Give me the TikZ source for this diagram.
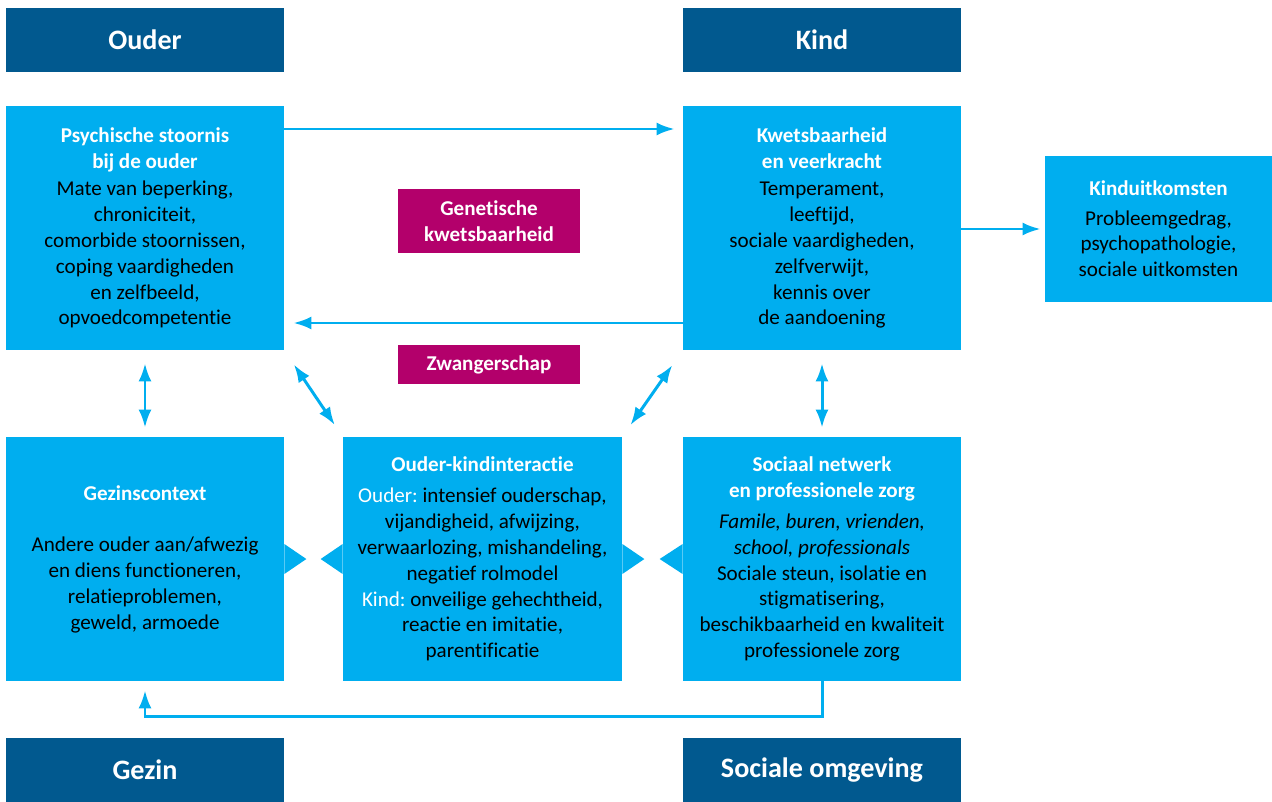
\documentclass[tikz,border=0pt]{standalone}
\usepackage{fontspec}
\setmainfont[Ligatures=NoCommon]{Carlito}
\usepackage{tikz}
\usetikzlibrary{arrows.meta}
\frenchspacing
\definecolor{lichtblauw}{HTML}{00AEEF}
\definecolor{donkerblauw}{HTML}{01598F}
\definecolor{paars}{HTML}{B3006B}
\tikzset{box/.style = {fill=lichtblauw, text=black, align=center, inner sep=0,
                       minimum width=5.56cm, minimum height=4.88cm,
                       font=\fontsize{12}{14.7}\selectfont}}
\tikzset{head/.style = {fill=donkerblauw, text=white, inner sep=0,
                        minimum width=5.56cm, minimum height=1.28cm,
                        font=\fontsize{16}{19}\selectfont\bfseries}}
\tikzset{accent/.style = {fill=paars, text=white, align=center, inner sep=0,
                          minimum width=3.64cm,
                          font=\fontsize{12}{14.7}\selectfont\bfseries}}
\tikzset{link/.style = {draw=lichtblauw, line width=1.7pt,
                        -{Latex[length=3.6mm, width=2.6mm]}}}
\tikzset{both/.style = {link, {Latex[length=3.6mm, width=2.6mm]}-{Latex[length=3.6mm, width=2.6mm]}}}
\newcommand{\kop}[1]{{\color{white}\bfseries #1}}

\begin{document}
\begin{tikzpicture}
  \useasboundingbox (0, 0) rectangle (25.44, -16.02);
  \node [head] (ouder) at (2.90, -0.80) {Ouder};
  \node [head] (kind) at (16.44, -0.80) {Kind};
  \node [head] (gezin) at (2.90, -15.40) {Gezin};
  \node [head] (omgeving) at (16.44, -15.40) {Sociale omgeving};

  \node [box] (stoornis) at (2.90, -4.56) {\kop{Psychische stoornis}\\ \kop{bij de ouder}\\[1pt]
    Mate van beperking,\\ chroniciteit,\\ comorbide stoornissen,\\ coping vaardigheden\\
    en zelfbeeld,\\ opvoedcompetentie};
  \node [box] (kwetsbaar) at (16.44, -4.56) {\kop{Kwetsbaarheid}\\ \kop{en veerkracht}\\[1pt]
    Temperament,\\ leeftijd,\\ sociale vaardigheden,\\ zelfverwijt,\\ kennis over\\ de aandoening};
  \node [box, minimum width=4.54cm, minimum height=2.92cm] (uitkomst) at (23.17, -4.58)
    {\kop{Kinduitkomsten}\\[2pt] Probleemgedrag,\\ psychopathologie,\\ sociale uitkomsten};
  \node [box] (context) at (2.90, -11.18) {\kop{Gezinscontext}\\[14.7pt]
    Andere ouder aan/afwezig\\ en diens functioneren,\\ relatieproblemen,\\ geweld, armoede};
  \node [box, minimum width=5.58cm] (interactie) at (9.65, -11.18) {\kop{Ouder-kindinteractie}\\[3pt]
    \textcolor{white}{Ouder:} intensief ouderschap,\\ vijandigheid, afwijzing,\\
    verwaarlozing, mishandeling,\\ negatief rolmodel\\
    \textcolor{white}{Kind:} onveilige gehechtheid,\\ reactie en imitatie,\\ parentificatie};
  \node [box] (netwerk) at (16.44, -11.18) {\kop{Sociaal netwerk}\\ \kop{en professionele zorg}\\[3pt]
    \textit{Famile, buren, vrienden,}\\ \textit{school, professionals}\\
    Sociale steun, isolatie en\\ stigmatisering,\\ beschikbaarheid en kwaliteit\\ professionele zorg};

  \node [accent, minimum height=1.28cm] (genetisch) at (9.78, -4.42) {Genetische\\ kwetsbaarheid};
  \node [accent, minimum height=0.78cm] (zwanger) at (9.78, -7.29) {Zwangerschap};

  \fill [lichtblauw] ([yshift=3mm]context.east) -- ++(0.44, -0.3) -- ([yshift=-3mm]context.east) -- cycle;
  \fill [lichtblauw] ([yshift=3mm]interactie.west) -- ++(-0.44, -0.3) -- ([yshift=-3mm]interactie.west) -- cycle;
  \fill [lichtblauw] ([yshift=3mm]interactie.east) -- ++(0.44, -0.3) -- ([yshift=-3mm]interactie.east) -- cycle;
  \fill [lichtblauw] ([yshift=3mm]netwerk.west) -- ++(-0.46, -0.3) -- ([yshift=-3mm]netwerk.west) -- cycle;

  \draw [link, shorten >=0.16cm] ([yshift=1.98cm]stoornis.east) -- ([yshift=1.98cm]kwetsbaar.west);
  \draw [link, shorten >=0.18cm] ([yshift=-1.90cm]kwetsbaar.west) -- ([yshift=-1.90cm]stoornis.east);
  \draw [link, shorten >=0.08cm] (kwetsbaar.east |- uitkomst.west) -- (uitkomst.west);
  \draw [both, shorten <=0.26cm, shorten >=0.18cm] (stoornis.south) -- (context.north);
  \draw [both, shorten <=0.26cm, shorten >=0.18cm] (kwetsbaar.south) -- (netwerk.north);
  \draw [both, shorten <=0.34cm, shorten >=0.28cm] (stoornis.south east) -- (interactie.north west);
  \draw [both, shorten <=0.36cm, shorten >=0.28cm] (kwetsbaar.south west) -- (interactie.north east);
  \draw [link, shorten >=0.18cm] (netwerk.south) -- ++(0, -0.70) -| (context.south);
\end{tikzpicture}
\end{document}
